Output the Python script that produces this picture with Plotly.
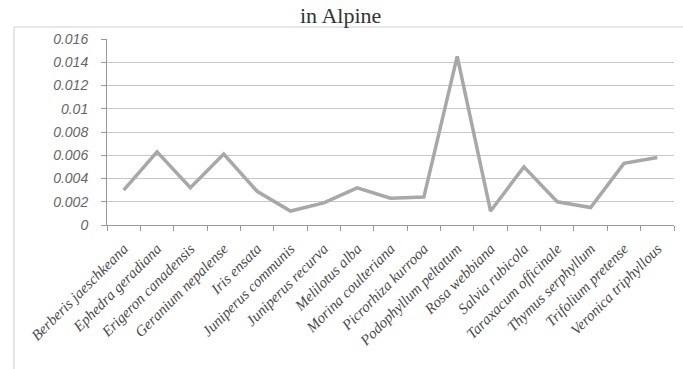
import plotly.graph_objects as go

# Species sampled in the alpine zone and the value recorded for each
species = [
    "Berberis jaeschkeana", "Ephedra geradiana", "Erigeron canadensis",
    "Geranium nepalense", "Iris ensata", "Juniperus communis",
    "Juniperus recurva", "Melilotus alba", "Morina coulteriana",
    "Picrorhiza kurrooa", "Podophyllum peltatum", "Rosa webbiana",
    "Salvia rubicola", "Taraxacum officinale", "Thymus serphyllum",
    "Trifolium pretense", "Veronica triphyllous",
]
values = [
    0.0030, 0.0063, 0.0032, 0.0061, 0.0029, 0.0012, 0.0019, 0.0032,
    0.0023, 0.0024, 0.0145, 0.0012, 0.0050, 0.0020, 0.0015, 0.0053,
    0.0058,
]
y_ticks = [0, 0.002, 0.004, 0.006, 0.008, 0.01, 0.012, 0.014, 0.016]
y_tick_text = ["0", "0.002", "0.004", "0.006", "0.008", "0.01", "0.012", "0.014", "0.016"]

fig = go.Figure()
fig.add_trace(go.Scatter(
    x=species, y=values, mode="lines",
    line=dict(color="#a8a8a8", width=3.5),
    showlegend=False, hoverinfo="x+y",
))

W, H = 683, 369
L, R, T, B = 107, 9, 39, 144
pw = W - L - R
ph = H - T - B


def px_x(px):
    """Pixel column -> paper x."""
    return (px - L) / pw


def px_y(py):
    """Pixel row (from top) -> paper y."""
    return (H - B - py) / ph


fig.update_layout(
    width=W, height=H,
    margin=dict(l=L, r=R, t=T, b=B, autoexpand=False),
    paper_bgcolor="white", plot_bgcolor="white",
    xaxis=dict(
        type="category", tickson="boundaries",
        range=[-0.5, len(species) - 0.5],
        ticks="outside", ticklen=5, tickcolor="#9a9a9a",
        showline=True, linecolor="#9a9a9a", linewidth=1,
        showgrid=False, tickangle=-45, automargin=False,
        ticklabelstandoff=8,
        tickfont=dict(family="Liberation Serif", size=15,
                      color="#4a4a4a", style="italic"),
    ),
    yaxis=dict(
        range=[0, 0.016], tickvals=y_ticks, ticktext=y_tick_text,
        ticks="outside", ticklen=5, tickcolor="#9a9a9a",
        showline=True, linecolor="#9a9a9a", linewidth=1,
        showgrid=True, gridcolor="#c8c8c8", gridwidth=1,
        zeroline=False, automargin=False, ticklabelstandoff=10,
        tickfont=dict(family="Liberation Sans", size=14,
                      color="#666666", style="italic"),
    ),
)

# Chart area frame, running off the right and bottom of the page
fig.add_shape(
    type="rect", xref="paper", yref="paper",
    x0=px_x(14), x1=px_x(700), y0=px_y(400), y1=px_y(27),
    line=dict(color="#cfcfcf", width=1), fillcolor="rgba(0,0,0,0)",
    layer="below",
)

# Second line of the chart heading
fig.add_annotation(
    text="in Alpine", xref="paper", yref="paper",
    x=px_x(340), y=px_y(1),
    xanchor="center", yanchor="top", showarrow=False,
    font=dict(family="Liberation Serif", size=22, color="#333333"),
)

fig.write_html("out.html")
